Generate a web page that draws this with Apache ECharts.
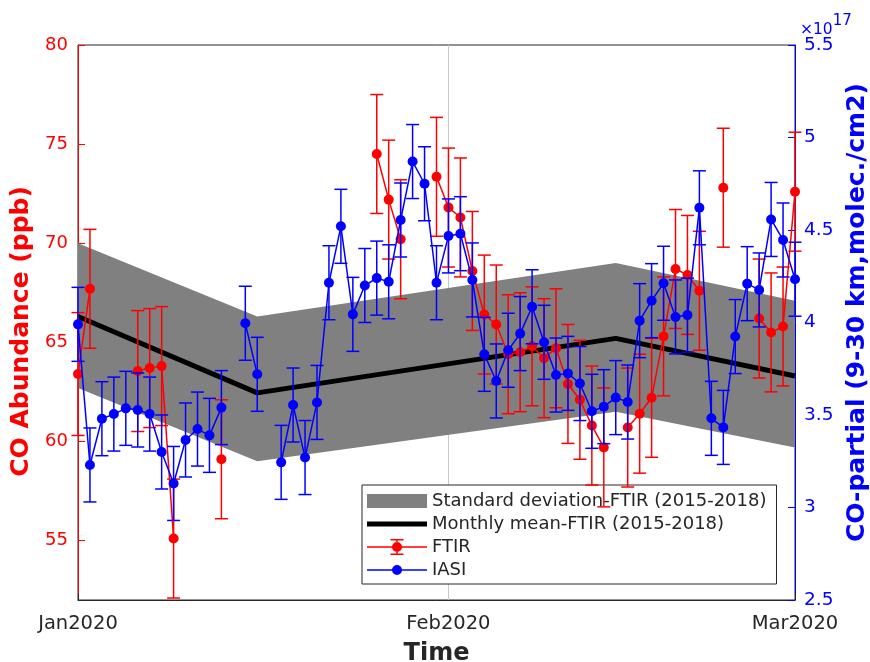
<!DOCTYPE html>
<html>
<head>
<meta charset="utf-8">
<script src="https://cdn.jsdelivr.net/npm/echarts@6/dist/echarts.min.js"></script>
<style>
  html, body { margin: 0; padding: 0; background: #fff; }
  #chart { width: 870px; height: 662px; }
</style>
</head>
<body>
<div id="chart"></div>
<script>
// x values are days counted from 1 Jan 2020 (day 60 = 1 Mar 2020)
const xTickDays = [0, 31, 60];
const xTickLabels = ['Jan2020', 'Feb2020', 'Mar2020'];
const leftTicks = [55, 60, 65, 70, 75, 80];

// monthly mean / std band of FTIR 2015-2018
const sdDays = [0, 15, 45, 60];
const meanFtir = [66.3, 62.45, 65.2, 63.3];
const sdUpper = [70.0, 66.3, 69.0, 67.1];
const sdLower = [62.7, 59.0, 61.5, 59.7];

// FTIR (ppb)
const ftirDays = [0, 1, 5, 6, 7, 8, 12, 25, 26, 27, 30, 31, 32, 33, 34, 35, 36, 37, 38, 39, 40,
  41, 42, 43, 44, 46, 47, 48, 49, 50, 51, 52, 54, 57, 58, 59, 60];
const ftirValues = [63.4, 67.7, 63.55, 63.7, 63.8, 55.1, 59.1, 74.5, 72.2, 70.2, 73.35, 71.8, 71.3,
  68.6, 66.4, 65.9, 64.4, 64.5, 64.8, 64.2, 64.7, 62.9, 62.1, 60.8, 59.7, 60.7, 61.4, 62.2, 65.3,
  68.7, 68.4, 67.6, 72.8, 66.2, 65.5, 65.8, 72.6];
const ftirErr = [3.1, 3.0, 3.05, 3.0, 3.0, 3.0, 3.0, 3.0, 3.0, 3.0, 3.0, 3.0, 3.0, 3.0, 3.0, 3.0,
  3.0, 3.0, 3.0, 3.0, 3.0, 3.0, 3.0, 3.0, 3.0, 3.0, 3.0, 3.0, 3.0, 3.0, 3.0, 3.0, 3.0, 3.0, 3.0,
  3.0, 3.0];

// IASI (x10^17 molec./cm2)
const iasiDays = [0, 1, 2, 3, 4, 5, 6, 7, 8, 9, 10, 11, 12, 14, 15, 17, 18, 19, 20, 21, 22, 23,
  24, 25, 26, 27, 28, 29, 30, 31, 32, 33, 34, 35, 36, 37, 38, 39, 40, 41, 42, 43, 44, 45, 46, 47,
  48, 49, 50, 51, 52, 53, 54, 55, 56, 57, 58, 59, 60];
const iasiValues = [3.99, 3.23, 3.48, 3.505, 3.536, 3.527, 3.505, 3.30, 3.13, 3.365, 3.424, 3.39,
  3.54, 3.996, 3.72, 3.244, 3.554, 3.27, 3.568, 4.215, 4.52, 4.044, 4.20, 4.24, 4.22, 4.554, 4.87,
  4.75, 4.215, 4.468, 4.48, 4.23, 3.828, 3.684, 3.85, 3.94, 4.085, 3.893, 3.716, 3.725, 3.67,
  3.52, 3.545, 3.594, 3.57, 4.01, 4.118, 4.212, 4.03, 4.04, 4.62, 3.482, 3.433, 3.924, 4.21,
  4.176, 4.557, 4.446, 4.234];
const iasiErr = iasiDays.map(() => 0.2);

const RED = '#ff0000';
const BLUE = '#0000ff';
const FONT = 'DejaVu Sans';

// line breaks where a day is missing
function lineData(days, vals) {
  const out = [];
  days.forEach((d, i) => {
    if (i > 0 && d - days[i - 1] > 1) out.push([d - 1, null]);
    out.push([d, vals[i]]);
  });
  return out;
}

function errData(days, vals, errs) {
  return days.map((d, i) => [d, vals[i] - errs[i], vals[i] + errs[i]]);
}

function errorBar(color) {
  return function (params, api) {
    const x = api.value(0);
    const lo = api.coord([x, api.value(1)]);
    const hi = api.coord([x, api.value(2)]);
    const cs = params.coordSys;
    const top = Math.max(hi[1], cs.y);
    const bot = Math.min(lo[1], cs.y + cs.height);
    const half = 6.5;
    const style = { stroke: color, lineWidth: 1.5 };
    const children = [{ type: 'line', shape: { x1: lo[0], y1: top, x2: lo[0], y2: bot }, style: style }];
    if (hi[1] >= cs.y) {
      children.push({ type: 'line', shape: { x1: hi[0] - half, y1: hi[1], x2: hi[0] + half, y2: hi[1] }, style: style });
    }
    if (lo[1] <= cs.y + cs.height) {
      children.push({ type: 'line', shape: { x1: lo[0] - half, y1: lo[1], x2: lo[0] + half, y2: lo[1] }, style: style });
    }
    return { type: 'group', children: children };
  };
}

// one polygon for the whole std band
function bandItem(params, api) {
  if (params.dataIndex !== 0) return null;
  const pts = [];
  sdDays.forEach((d, i) => pts.push(api.coord([d, sdUpper[i]])));
  for (let i = sdDays.length - 1; i >= 0; i--) pts.push(api.coord([sdDays[i], sdLower[i]]));
  return { type: 'polygon', shape: { points: pts }, style: { fill: '#808080' } };
}

const chart = echarts.init(document.getElementById('chart'));

const option = {
  animation: false,
  backgroundColor: '#fff',
  title: {
    text: '{a|×10}{b|17}',
    left: 795,
    top: 9,
    textStyle: {
      rich: {
        a: { fontFamily: FONT, fontSize: 15.5, fontWeight: 'normal', color: BLUE, lineHeight: 24, verticalAlign: 'bottom' },
        b: { fontFamily: FONT, fontSize: 15, fontWeight: 'normal', color: BLUE, lineHeight: 24, verticalAlign: 'top' }
      }
    }
  },
  grid: {
    left: 78, right: 75, top: 45, bottom: 62,
    outerBoundsMode: 'none',
    containLabel: false,
    show: true, borderColor: '#262626', borderWidth: 1, backgroundColor: '#fff'
  },
  legend: {
    orient: 'vertical',
    left: 362,
    top: 485,
    itemWidth: 60,
    itemHeight: 16,
    itemGap: 5,
    padding: [7, 10, 5, 5],
    backgroundColor: '#fff',
    borderColor: '#262626',
    borderWidth: 1,
    selectedMode: false,
    textStyle: { fontFamily: FONT, fontSize: 18, color: '#262626' },
    itemStyle: { borderWidth: 0 },
    data: [
      { name: 'Standard deviation-FTIR (2015-2018)', icon: 'path://M0 0H60V14H0Z' },
      { name: 'Monthly mean-FTIR (2015-2018)', icon: 'path://M0 0H60V5H0Z' },
      { name: 'FTIR', icon: 'path://M0 7.25H60V8.75H0Z M29.25 0H30.75V16H29.25Z M23.5 0H36.5V1.5H23.5Z M23.5 14.5H36.5V16H23.5Z M25 8A5 5 0 1 1 35 8A5 5 0 1 1 25 8Z' },
      { name: 'IASI', icon: 'path://M0 7.25H60V8.75H0Z M25 8A5 5 0 1 1 35 8A5 5 0 1 1 25 8Z' }
    ]
  },
  xAxis: {
    type: 'value',
    min: 0,
    max: 60,
    name: 'Time',
    nameLocation: 'middle',
    nameGap: 42,
    nameTextStyle: { fontFamily: FONT, fontSize: 24, fontWeight: 'bold', color: '#262626' },
    axisLine: { lineStyle: { color: '#262626', width: 1 } },
    axisTick: { inside: true, length: 6, customValues: xTickDays, lineStyle: { color: '#262626' } },
    axisLabel: {
      customValues: xTickDays,
      margin: 14,
      fontFamily: FONT, fontSize: 19.5, color: '#262626',
      formatter: v => xTickLabels[xTickDays.indexOf(v)]
    },
    splitLine: { show: false }
  },
  yAxis: [
    {
      type: 'value',
      min: 52,
      max: 80,
      position: 'left',
      name: 'CO Abundance (ppb)',
      nameLocation: 'middle',
      nameRotate: 90,
      nameGap: 43,
      nameTextStyle: { fontFamily: FONT, fontSize: 25, fontWeight: 'bold', color: RED, padding: [0, 18, 0, 0] },
      axisLine: { show: true, lineStyle: { color: RED, width: 1 } },
      axisTick: { show: true, inside: true, length: 7, customValues: leftTicks, lineStyle: { color: RED } },
      axisLabel: { customValues: leftTicks, margin: 10, fontFamily: FONT, fontSize: 18, color: RED },
      splitLine: { show: false }
    },
    {
      type: 'value',
      min: 2.5,
      max: 5.5,
      interval: 0.5,
      position: 'right',
      name: 'CO-partial (9-30 km,molec./cm2)',
      nameLocation: 'middle',
      nameRotate: 90,
      nameGap: 50,
      nameTextStyle: { fontFamily: FONT, fontSize: 25, fontWeight: 'bold', color: BLUE, padding: [0, 0, 0, 20] },
      axisLine: { show: true, lineStyle: { color: BLUE, width: 1 } },
      axisTick: { show: true, inside: true, length: 7, lineStyle: { color: BLUE } },
      axisLabel: { margin: 9, fontFamily: FONT, fontSize: 18.5, color: BLUE },
      splitLine: { show: false }
    }
  ],
  series: [
    {
      name: 'Standard deviation-FTIR (2015-2018)',
      type: 'custom',
      z: 2,
      itemStyle: { color: '#808080' },
      renderItem: bandItem,
      encode: { x: 0, y: [1, 2] },
      data: sdDays.map((d, i) => [d, sdLower[i], sdUpper[i]]),
      markLine: {
        silent: true,
        z: 1,
        symbol: 'none',
        label: { show: false },
        lineStyle: { color: '#c8c8c8', width: 1, type: 'solid' },
        data: [{ xAxis: xTickDays[1] }]
      }
    },
    {
      name: 'Monthly mean-FTIR (2015-2018)',
      type: 'line',
      z: 3,
      symbol: 'none',
      itemStyle: { color: '#000' },
      lineStyle: { color: '#000', width: 5 },
      data: sdDays.map((d, i) => [d, meanFtir[i]])
    },
    {
      name: 'ftirErr',
      type: 'custom',
      z: 4,
      yAxisIndex: 0,
      renderItem: errorBar(RED),
      encode: { x: 0, y: [1, 2] },
      data: errData(ftirDays, ftirValues, ftirErr)
    },
    {
      name: 'FTIR',
      type: 'line',
      z: 5,
      yAxisIndex: 0,
      symbol: 'circle',
      symbolSize: 10,
      itemStyle: { color: RED, borderWidth: 0 },
      lineStyle: { color: RED, width: 1.5 },
      connectNulls: false,
      data: lineData(ftirDays, ftirValues)
    },
    {
      name: 'iasiErr',
      type: 'custom',
      z: 6,
      yAxisIndex: 1,
      renderItem: errorBar(BLUE),
      encode: { x: 0, y: [1, 2] },
      data: errData(iasiDays, iasiValues, iasiErr)
    },
    {
      name: 'IASI',
      type: 'line',
      z: 7,
      yAxisIndex: 1,
      symbol: 'circle',
      symbolSize: 10,
      itemStyle: { color: BLUE, borderWidth: 0 },
      lineStyle: { color: BLUE, width: 1.5 },
      connectNulls: false,
      data: lineData(iasiDays, iasiValues)
    }
  ]
};

chart.setOption(option);
</script>
</body>
</html>
